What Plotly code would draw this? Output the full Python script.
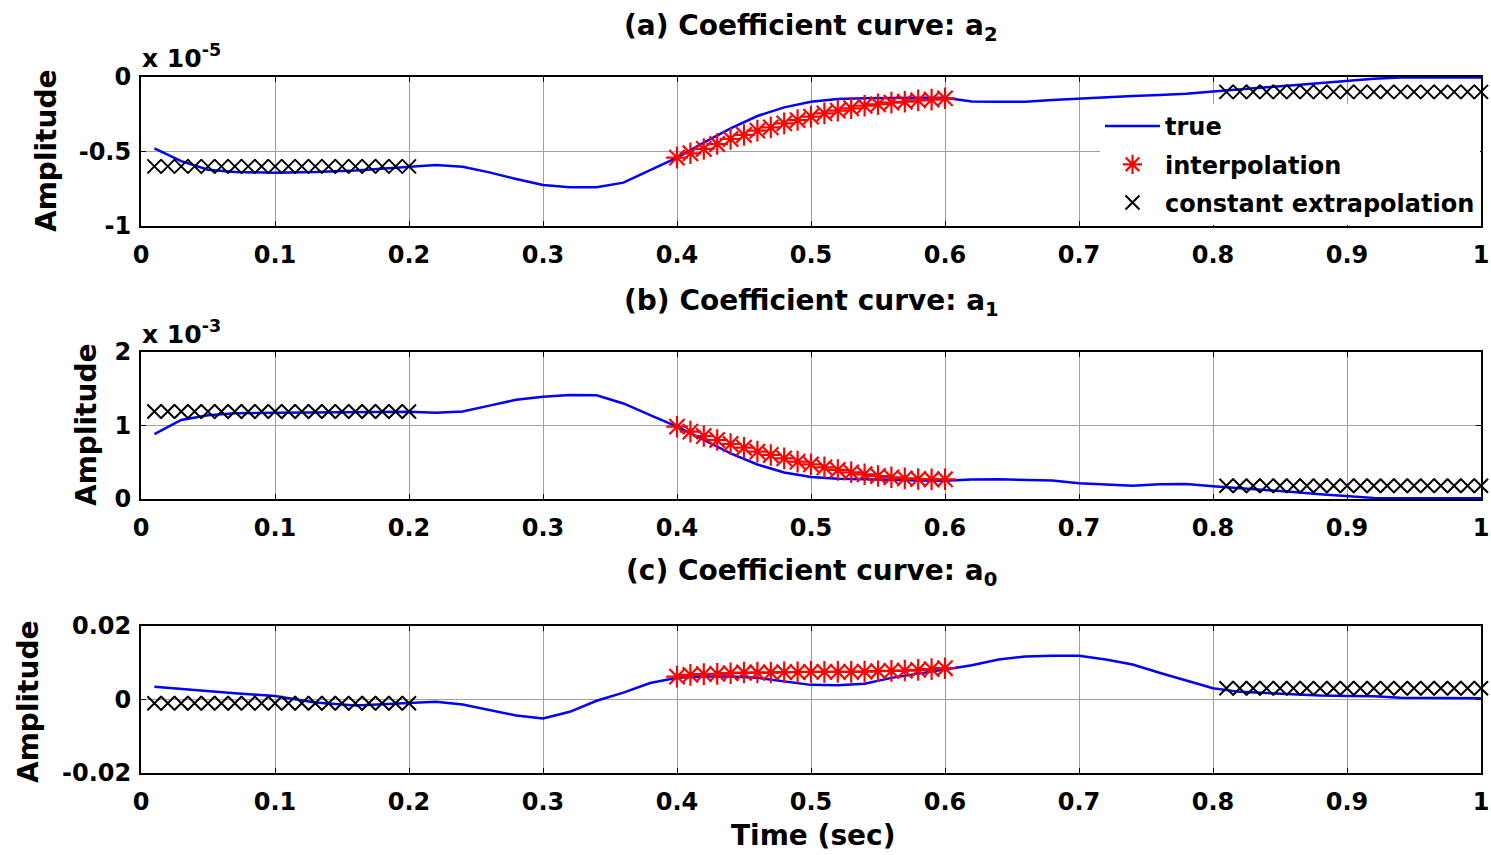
import plotly.graph_objects as go

W, H = 1491, 855

# ---- true coefficient curves, sampled in time (sec) ----
t_true = [0.01, 0.03, 0.05, 0.07, 0.10, 0.13, 0.16, 0.20, 0.22, 0.24, 0.26, 0.28,
          0.30, 0.32, 0.34, 0.36, 0.38, 0.40, 0.42, 0.44, 0.46, 0.48, 0.50, 0.52,
          0.54, 0.56, 0.58, 0.60, 0.62, 0.64, 0.66, 0.68, 0.70, 0.72, 0.74, 0.76,
          0.78, 0.80, 0.82, 0.84, 0.86, 0.88, 0.90, 0.92, 0.94, 0.97, 1.00]

# a2 in units of 1e-5
a2_true = [-0.479, -0.565, -0.622, -0.638, -0.642, -0.638, -0.628, -0.606, -0.590, -0.603,
           -0.640, -0.685, -0.725, -0.740, -0.740, -0.709, -0.625, -0.541, -0.440, -0.345,
           -0.262, -0.204, -0.166, -0.148, -0.142, -0.139, -0.139, -0.139, -0.165, -0.166,
           -0.166, -0.155, -0.145, -0.137, -0.128, -0.121, -0.113, -0.098, -0.082, -0.069,
           -0.056, -0.042, -0.025, -0.011, -0.004, -0.003, -0.004]

# a1 in units of 1e-3
a1_true = [0.884, 1.075, 1.140, 1.166, 1.174, 1.178, 1.182, 1.188, 1.174, 1.190,
           1.270, 1.350, 1.392, 1.415, 1.410, 1.300, 1.140, 0.984, 0.803, 0.620,
           0.470, 0.360, 0.300, 0.275, 0.268, 0.258, 0.252, 0.249, 0.265, 0.268,
           0.262, 0.252, 0.215, 0.200, 0.181, 0.200, 0.204, 0.175, 0.150, 0.122,
           0.095, 0.065, 0.045, 0.015, 0.009, 0.009, 0.009]

# a0
a0_true = [0.0034, 0.0028, 0.0020, 0.0016, 0.0009, -0.0009, -0.0017, -0.0009, -0.0007, -0.0014,
           -0.0030, -0.0044, -0.0052, -0.0034, -0.0004, 0.0018, 0.0044, 0.0058, 0.0062, 0.0062,
           0.0058, 0.0048, 0.0039, 0.0038, 0.0042, 0.0058, 0.0070, 0.0080, 0.0092, 0.0108,
           0.0116, 0.0118, 0.0118, 0.0108, 0.0094, 0.0072, 0.0052, 0.0030, 0.0020, 0.0016,
           0.0012, 0.0010, 0.0009, 0.0008, 0.00044, 0.0003, 0.00028]

# ---- interpolated coefficients on the gap 0.4 .. 0.6 ----
t_interp = [0.40, 0.41, 0.42, 0.43, 0.44, 0.45, 0.46, 0.47, 0.48, 0.49, 0.50,
            0.51, 0.52, 0.53, 0.54, 0.55, 0.56, 0.57, 0.58, 0.59, 0.60]
a2_interp = [-0.541, -0.512, -0.483, -0.450, -0.416, -0.389, -0.360, -0.338, -0.311, -0.289, -0.266,
             -0.244, -0.226, -0.210, -0.193, -0.183, -0.172, -0.166, -0.157, -0.152, -0.143]
a1_interp = [0.984, 0.916, 0.857, 0.803, 0.748, 0.698, 0.644, 0.599, 0.553, 0.508, 0.472,
             0.431, 0.395, 0.363, 0.336, 0.313, 0.295, 0.281, 0.272, 0.268, 0.268]
a0_interp = [0.00614, 0.00660, 0.00680, 0.00688, 0.00706, 0.00724, 0.00724, 0.00724, 0.00734, 0.00734, 0.00742,
             0.00742, 0.00742, 0.00742, 0.00750, 0.00760, 0.00770, 0.00778, 0.00796, 0.00816, 0.00842]

# ---- constant extrapolation on 0 .. 0.2 and 0.8 .. 1 ----
t_extrap = [0.01, 0.02, 0.03, 0.04, 0.05, 0.06, 0.07, 0.08, 0.09, 0.10,
            0.11, 0.12, 0.13, 0.14, 0.15, 0.16, 0.17, 0.18, 0.19, 0.20,
            None,
            0.81, 0.82, 0.83, 0.84, 0.85, 0.86, 0.87, 0.88, 0.89, 0.90,
            0.91, 0.92, 0.93, 0.94, 0.95, 0.96, 0.97, 0.98, 0.99, 1.00]
a2_extrap = [-0.60, -0.60, -0.60, -0.60, -0.60, -0.60, -0.60, -0.60, -0.60, -0.60,
             -0.60, -0.60, -0.60, -0.60, -0.60, -0.60, -0.60, -0.60, -0.60, -0.60,
             None,
             -0.10, -0.10, -0.10, -0.10, -0.10, -0.10, -0.10, -0.10, -0.10, -0.10,
             -0.10, -0.10, -0.10, -0.10, -0.10, -0.10, -0.10, -0.10, -0.10, -0.10]
a1_extrap = [1.19, 1.19, 1.19, 1.19, 1.19, 1.19, 1.19, 1.19, 1.19, 1.19,
             1.19, 1.19, 1.19, 1.19, 1.19, 1.19, 1.19, 1.19, 1.19, 1.19,
             None,
             0.18, 0.18, 0.18, 0.18, 0.18, 0.18, 0.18, 0.18, 0.18, 0.18,
             0.18, 0.18, 0.18, 0.18, 0.18, 0.18, 0.18, 0.18, 0.18, 0.18]
a0_extrap = [-0.0011, -0.0011, -0.0011, -0.0011, -0.0011, -0.0011, -0.0011, -0.0011, -0.0011, -0.0011,
             -0.0011, -0.0011, -0.0011, -0.0011, -0.0011, -0.0011, -0.0011, -0.0011, -0.0011, -0.0011,
             None,
             0.0030, 0.0030, 0.0030, 0.0030, 0.0030, 0.0030, 0.0030, 0.0030, 0.0030, 0.0030,
             0.0030, 0.0030, 0.0030, 0.0030, 0.0030, 0.0030, 0.0030, 0.0030, 0.0030, 0.0030]

x_ticks = [0, 0.1, 0.2, 0.3, 0.4, 0.5, 0.6, 0.7, 0.8, 0.9, 1]
x_ticktext = ["0", "0.1", "0.2", "0.3", "0.4", "0.5", "0.6", "0.7", "0.8", "0.9", "1"]

panels = [
    dict(true=a2_true, interp=a2_interp, extrap=a2_extrap, yrange=[-1, 0],
         yticks=[-1, -0.5, 0], ytext=["-1", "-0.5", "0"]),
    dict(true=a1_true, interp=a1_interp, extrap=a1_extrap, yrange=[0, 2],
         yticks=[0, 1, 2], ytext=["0", "1", "2"]),
    dict(true=a0_true, interp=a0_interp, extrap=a0_extrap, yrange=[-0.02, 0.02],
         yticks=[-0.02, 0, 0.02], ytext=["-0.02", "0", "0.02"]),
]

FONT = "DejaVu Sans"
BLUE, RED, BLACK = "#0000ff", "#ff0000", "#000000"

# pixel frame of each axes box (top, bottom)
x_left, x_right = 141, 1481
boxes = [(77, 226), (352, 499), (625.5, 773)]

fig = go.Figure()
layout = {}
for i, (p, (top, bot)) in enumerate(zip(panels, boxes)):
    n = "" if i == 0 else str(i + 1)
    xa, ya = "x" + n, "y" + n
    first = i == 0
    fig.add_trace(go.Scatter(x=t_true, y=p["true"], mode="lines", name="true",
                             line=dict(color=BLUE, width=2.5), xaxis=xa, yaxis=ya,
                             showlegend=first, legendgroup="true"))
    fig.add_trace(go.Scatter(x=t_interp, y=p["interp"], mode="markers", name="interpolation",
                             marker=dict(symbol="asterisk-open", size=18, color=RED,
                                         line=dict(color=RED, width=2.2)),
                             xaxis=xa, yaxis=ya, showlegend=first, cliponaxis=False,
                             legendgroup="interp"))
    fig.add_trace(go.Scatter(x=t_extrap, y=p["extrap"], mode="markers", name="constant extrapolation",
                             marker=dict(symbol="x-thin-open", size=14, color=BLACK,
                                         line=dict(color=BLACK, width=2)),
                             xaxis=xa, yaxis=ya, showlegend=first, cliponaxis=False,
                             legendgroup="extrap"))
    common = dict(showline=True, linecolor=BLACK, linewidth=2, mirror="ticks",
                  ticks="inside", ticklen=5, tickwidth=1.2, tickcolor=BLACK,
                  showgrid=True, gridcolor="#a0a0a0", gridwidth=1, zeroline=False,
                  automargin=False,
                  tickfont=dict(family=FONT, size=24, color=BLACK, weight="bold"))
    layout["xaxis" + n] = dict(common, domain=[x_left / W, x_right / W], range=[0, 1],
                               tickmode="array", tickvals=x_ticks, ticktext=x_ticktext,
                               anchor=ya, ticklabelstandoff=6)
    layout["yaxis" + n] = dict(common, domain=[1 - bot / H, 1 - top / H], range=p["yrange"],
                               tickmode="array", tickvals=p["yticks"], ticktext=p["ytext"],
                               anchor=xa, ticklabelstandoff=3)

bold = dict(family=FONT, color=BLACK, weight="bold")
annotations = []
titles = [("(a) Coefficient curve: a<sub>2</sub>", 28),
          ("(b) Coefficient curve: a<sub>1</sub>", 302),
          ("(c) Coefficient curve: a<sub>0</sub>", 572)]
for text, yc in titles:
    annotations.append(dict(text=text, x=811 / W, y=1 - yc / H, xref="paper", yref="paper",
                            xanchor="center", yanchor="middle", showarrow=False,
                            font=dict(bold, size=28)))
for yc, xc in [(151, 47), (425, 87), (702, 28)]:
    annotations.append(dict(text="Amplitude", x=xc / W, y=1 - yc / H, xref="paper", yref="paper",
                            xanchor="center", yanchor="middle", textangle=-90, showarrow=False,
                            font=dict(bold, size=28)))
for text, yc in [("x 10<sup>-5</sup>", 57), ("x 10<sup>-3</sup>", 332)]:
    annotations.append(dict(text=text, x=140 / W, y=1 - yc / H, xref="paper", yref="paper",
                            xanchor="left", yanchor="middle", showarrow=False,
                            font=dict(bold, size=25)))
annotations.append(dict(text="Time (sec)", x=813 / W, y=1 - 835 / H, xref="paper", yref="paper",
                        xanchor="center", yanchor="middle", showarrow=False,
                        font=dict(bold, size=28)))

fig.update_layout(
    width=W, height=H, margin=dict(l=0, r=0, t=0, b=0, pad=0, autoexpand=False),
    paper_bgcolor="white", plot_bgcolor="white",
    font=dict(family=FONT, color=BLACK, weight="bold"),
    legend=dict(x=1100 / W, y=1 - 104 / H, xanchor="left", yanchor="top",
                bgcolor="white", borderwidth=0, font=dict(bold, size=24),
                itemwidth=55, tracegroupgap=4),
    annotations=annotations,
    **layout,
)

fig.write_html("out.html")
